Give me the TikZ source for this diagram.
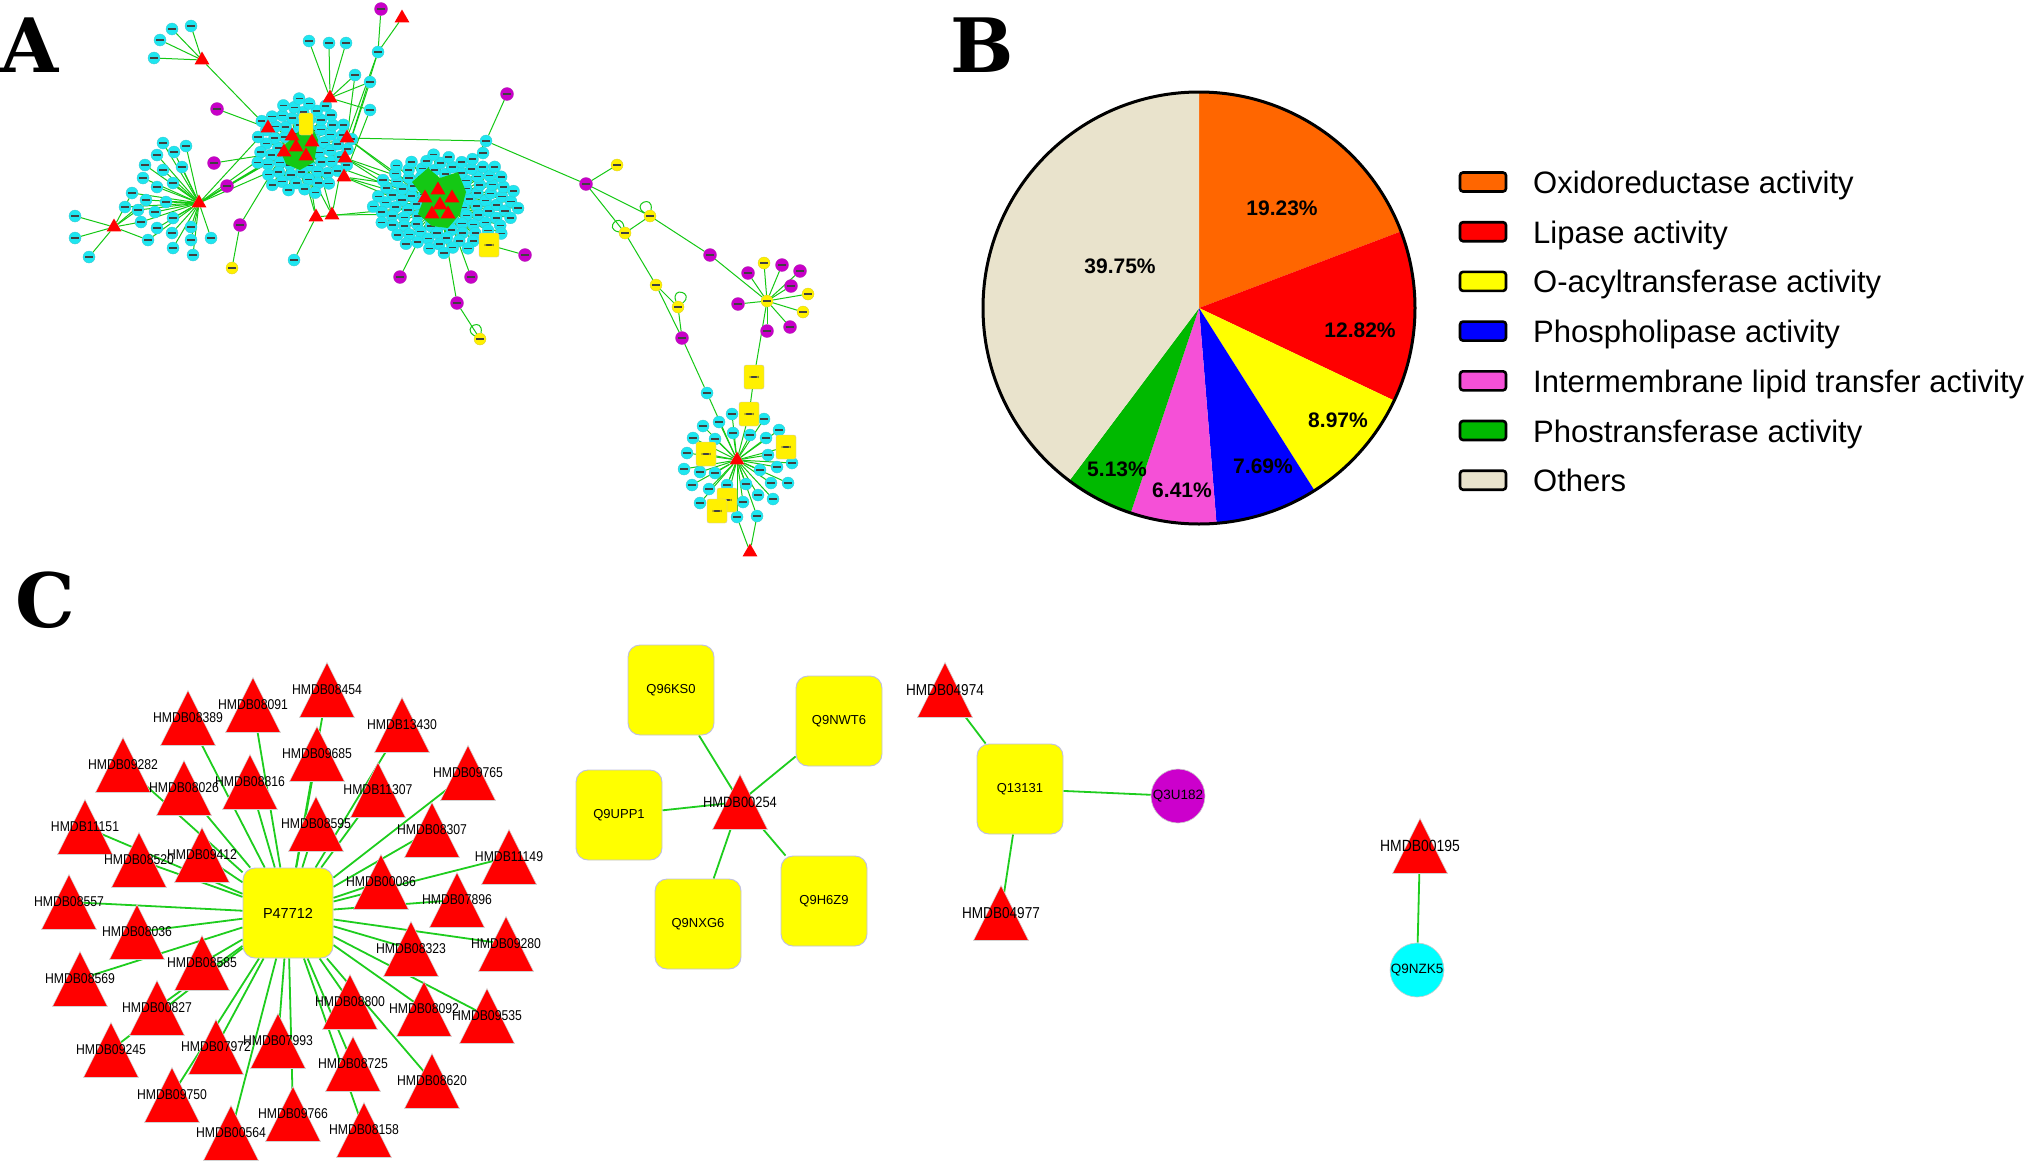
\documentclass[tikz,border=0pt]{standalone}
\usepackage{fontspec}
\setmainfont{Liberation Sans}
\newfontfamily\narrowfont[FakeStretch=0.86]{Liberation Sans}
\newfontfamily\letterfont{DejaVu Serif}
\usetikzlibrary{shapes.geometric,calc}
\pgfdeclarelayer{bg}
\pgfdeclarelayer{paper}
\pgfsetlayers{paper,bg,main}
\definecolor{acyan}{RGB}{30,230,240}
\definecolor{apurple}{RGB}{200,0,200}
\definecolor{ayellow}{RGB}{255,240,0}
\definecolor{agreen}{RGB}{20,200,20}
\definecolor{cgreen}{RGB}{30,205,30}
\definecolor{lav}{RGB}{190,190,225}
\definecolor{porange}{RGB}{255,102,0}
\definecolor{ppink}{RGB}{245,80,215}
\definecolor{pgreen}{RGB}{0,185,0}
\definecolor{pbeige}{RGB}{233,227,204}
\definecolor{cpurple}{RGB}{204,0,204}
\definecolor{ccyan}{RGB}{0,255,255}
\definecolor{yel}{RGB}{255,255,0}
\definecolor{rd}{RGB}{255,0,0}
\definecolor{bl}{RGB}{0,0,255}
\newcommand\ctri[5]{%
  \fill[rd,draw=gray!35,line width=0.6] ({#2-27.5},{#3+27.5}) -- (#2,{#3-27.5}) -- ({#2+27.5},{#3+27.5}) -- cycle;
  \node[inner sep=0,font=\narrowfont\fontsize{#5}{#5}\selectfont] (#1) at (#2,#3) {#4};}
\begin{document}
\begin{tikzpicture}[x=1pt,y=-1pt,
 smudge/.style={path picture={\fill[black!75] ([xshift=-#1,yshift=-0.8pt]path picture bounding box.center) rectangle ([xshift=#1,yshift=0.8pt]path picture bounding box.center);}},
 cy/.style={circle,fill=acyan,draw=acyan!70!gray,line width=0.3,minimum size=12,inner sep=0,smudge=3.6pt},
 pu/.style={circle,fill=apurple,draw=apurple!70!gray,line width=0.3,minimum size=13,inner sep=0,smudge=3.6pt},
 ye/.style={circle,fill=ayellow,draw=ayellow!70!gray,line width=0.3,minimum size=12,inner sep=0,smudge=3.6pt},
 ys/.style={rectangle,rounded corners=2,fill=ayellow,draw=lav,line width=0.3,minimum width=20,minimum height=24,inner sep=0,smudge=4.5pt},
 atri/.style={regular polygon,regular polygon sides=3,fill=rd,minimum size=17,inner sep=0},
 ae/.style={draw=agreen,line width=1},
 ce/.style={draw=cgreen,line width=1.8},
 qbox/.style={rectangle,rounded corners=12,fill=yel,draw=lav,line width=0.9,minimum width=86,minimum height=90,inner sep=0,font=\fontsize{13}{14}\selectfont},
 qcirc/.style={circle,minimum size=54,inner sep=0,draw=gray!40,line width=0.6,font=\fontsize{13.5}{14}\selectfont},
 plab/.style={font=\bfseries\fontsize{21}{22}\selectfont,inner sep=0},
 lbox/.style={rectangle,rounded corners=3,draw=black,line width=2.6,minimum width=46,minimum height=19,inner sep=0},
 ltext/.style={anchor=base west,font=\fontsize{31}{32}\selectfont,inner sep=0},
 panel/.style={font=\letterfont\bfseries\fontsize{75}{75}\selectfont,inner sep=0},
]
\begin{pgfonlayer}{paper}
\fill[white] (0,0) rectangle (2030,1162);
\end{pgfonlayer}
\useasboundingbox (0,0) rectangle (2030,1162);

% ---------------- panel letters
\node[panel] (LA) at (30,45) {A};
\node[panel] (LB) at (982,45) {B};
\node[panel] (LC) at (45,600) {C};

% ================= PANEL A =================
% cluster 1
\foreach \i in {5,...,70}
  \node[cy] (k\i) at ({303+6.0*sqrt(\i)*cos(137.508*\i)},{147+5.8*sqrt(\i)*sin(137.508*\i)}) {};
% cluster 3
\foreach \i in {6,...,110}
  \node[cy] (m\i) at ({445+7.0*sqrt(\i)*cos(137.508*\i)},{203+4.8*sqrt(\i)*sin(137.508*\i)}) {};
\fill[agreen] (412,182) -- (428,168) -- (440,178) -- (458,172) -- (466,192) -- (460,214) -- (448,228) -- (432,226) -- (418,214) -- (424,198) -- cycle;
\fill[agreen] (300,130) -- (312,126) -- (318,140) -- (314,162) -- (300,170) -- (286,164) -- (280,150) -- cycle;
% cluster 2
\foreach \x/\y [count=\i] in {157/155,174/152,145/165,163/170,182/167,143/178,157/187,173/183,132/193,146/200,166/202,138/210,155/212,173/218,141/222,157/228,191/227,172/233,148/240,173/248,191/240,211/238,193/255,125/207,163/143,186/146}
  \node[cy] (q\i) at (\x,\y) {};
\node[cy] (q27) at (75,216) {};
\node[cy] (q28) at (75,238) {};
\node[cy] (q29) at (89,257) {};
% top left star
\node[cy] (ca1) at (172,29) {};
\node[cy] (ca2) at (191,26) {};
\node[cy] (ca3) at (160,40) {};
\node[cy] (ca4) at (154,58) {};
\node[atri] (tA) at (202,60) {};
% top star
\foreach \x/\y [count=\i] in {309/41,329/43,346/43,355/75,370/82,370/110}
  \node[cy] (cb\i) at (\x,\y) {};
\node[atri] (tB) at (330,98) {};
\node[cy] (cC) at (378,52) {};
\node[pu] (pC) at (381,9) {};
\node[atri] (tC) at (402,18) {};
\node[pu] (p1) at (217,109) {};
\node[pu] (p2) at (214,163) {};
\node[pu] (p3) at (227,186) {};
\node[atri] (tD) at (316,217) {};
\node[atri] (tE) at (332,215) {};
\node[cy] (cD) at (294,260) {};
\node[pu] (p4) at (240,225) {};
\node[ye] (y1) at (232,268) {};
% cluster 1 triangles
\node[ys,minimum width=14,minimum height=22,path picture={}] (yk) at (306,124) {};
\foreach \n/\x/\y in {h1b/268/128,h1c/347/138,h1d/345/158,h1e/344/177,h1f/284/152,h1g/306/156,h1h/292/136,h1i/312/142,h1/296/147}
  \node[atri] (\n) at (\x,\y) {};
\node[atri] (t2) at (199,203) {};
\node[atri] (t2b) at (114,227) {};
% cluster 3 hubs
\foreach \n/\x/\y in {h3b/425/198,h3c/452/198,h3d/432/214,h3e/448/214,h3f/438/190,h3/440/205}
  \node[atri] (\n) at (\x,\y) {};
% right chain
\node[cy] (cR) at (486,141) {};
\node[pu] (pR) at (507,94) {};
\node[cy] (cR2) at (483,153) {};
\node[pu] (pS) at (586,184) {};
\node[ye] (yS1) at (617,165) {};
\node[ye] (yS2) at (650,216) {};
\node[ye] (yS3) at (625,233) {};
\node[pu] (pS2) at (710,255) {};
\node[ye] (yS4) at (656,285) {};
\node[ye] (yS5) at (678,307) {};
\node[pu] (pS3) at (682,338) {};
\node[cy] (cS) at (707,393) {};
\node[ye] (yc) at (767,301) {};
\foreach \x/\y [count=\i] in {764/263,808/294,803/312}
  \node[ye] (sy\i) at (\x,\y) {};
\foreach \x/\y [count=\i] in {782/265,800/271,791/286,790/327,767/331,738/304,748/273}
  \node[pu] (sp\i) at (\x,\y) {};
\node[ys] (ysqA) at (754,377) {};
\node[ys] (ysqB) at (489,245) {};
\node[pu] (pB) at (525,255) {};
\node[pu] (p5) at (400,277) {};
\node[pu] (p6) at (471,277) {};
\node[pu] (p7) at (457,303) {};
\node[ye] (y2) at (480,339) {};
% bottom cluster
\foreach \x/\y [count=\i] in {732/414,719/422,703/426,764/419,779/430,693/438,715/439,733/433,750/435,766/438,687/453,768/455,684/469,700/472,715/473,760/470,777/467,792/463,788/483,771/483,692/485,709/489,727/485,746/484,758/495,773/499,700/503,743/502,737/517,757/516}
  \node[cy] (r\i) at (\x,\y) {};
\foreach \x/\y [count=\i] in {749/414,786/447,706/454,727/500,717/511}
  \node[ys] (s\i) at (\x,\y) {};
\node[atri] (hb) at (737,460) {};
\node[atri] (hb2) at (750,552) {};

% ================= PANEL B =================
\begin{scope}[shift={(1199,308)},yscale=-1]
\fill[porange] (0,0) -- (90:216) arc[start angle=90,end angle=20.77,radius=216] -- cycle;
\fill[rd] (0,0) -- (20.77:216) arc[start angle=20.77,end angle=-25.38,radius=216] -- cycle;
\fill[yel] (0,0) -- (-25.38:216) arc[start angle=-25.38,end angle=-57.67,radius=216] -- cycle;
\fill[bl] (0,0) -- (-57.67:216) arc[start angle=-57.67,end angle=-85.35,radius=216] -- cycle;
\fill[ppink] (0,0) -- (-85.35:216) arc[start angle=-85.35,end angle=-108.43,radius=216] -- cycle;
\fill[pgreen] (0,0) -- (-108.43:216) arc[start angle=-108.43,end angle=-126.9,radius=216] -- cycle;
\fill[pbeige] (0,0) -- (-126.9:216) arc[start angle=-126.9,end angle=-270,radius=216] -- cycle;
\draw[line width=3] (0,0) circle[radius=216];
\end{scope}
\node[plab] (v1) at (1282,208) {19.23\%};
\node[plab] (v2) at (1360,330) {12.82\%};
\node[plab] (v3) at (1338,420) {8.97\%};
\node[plab] (v4) at (1263,466) {7.69\%};
\node[plab] (v5) at (1182,490) {6.41\%};
\node[plab] (v6) at (1117,469) {5.13\%};
\node[plab] (v7) at (1120,266) {39.75\%};
\foreach \c/\t [count=\i] in {porange/Oxidoreductase activity,rd/Lipase activity,yel/O-acyltransferase activity,bl/Phospholipase activity,ppink/Intermembrane lipid transfer activity,pgreen/Phostransferase activity,pbeige/Others}
{
  \node[lbox,fill=\c] (lb\i) at (1483,{182+49.7*(\i-1)}) {};
  \node[ltext] (lt\i) at (1533,{193.5+49.7*(\i-1)}) {\t};
}

% ================= PANEL C =================
\node[qbox,minimum width=90] (P47712) at (288,913) {\fontsize{14.5}{14}\selectfont P47712};
\foreach \n/\x/\y/\l in {a1/327/690/HMDB08454,a2/253/705/HMDB08091,a3/188/718/HMDB08389,a4/402/725/HMDB13430,a5/317/754/HMDB09685,a6/123/765/HMDB09282,a7/184/788/HMDB08026,a8/250/782/HMDB08816,a9/378/790/HMDB11307,a10/468/773/HMDB09765,a11/85/827/HMDB11151,a12/139/860/HMDB08520,a13/202/855/HMDB09412,a14/316/824/HMDB08595,a15/432/830/HMDB08307,a16/509/857/HMDB11149,a17/381/882/HMDB00086,a18/457/900/HMDB07896,a19/69/902/HMDB08557,a20/137/932/HMDB08036,a21/202/963/HMDB08585,a22/80/979/HMDB08569,a23/157/1008/HMDB00827,a24/111/1050/HMDB09245,a25/216/1047/HMDB07972,a26/278/1041/HMDB07993,a27/172/1095/HMDB09750,a28/231/1133/HMDB00564,a29/293/1114/HMDB09766,a30/364/1130/HMDB08158,a31/353/1064/HMDB08725,a32/432/1081/HMDB08620,a33/350/1002/HMDB08800,a34/424/1009/HMDB08092,a35/487/1016/HMDB09535,a36/411/949/HMDB08323,a37/506/944/HMDB09280}
  {\ctri{\n}{\x}{\y}{\l}{14.2}}

\node[qbox] (Q96KS0) at (671,690) {Q96KS0};
\node[qbox] (Q9NWT6) at (839,721) {Q9NWT6};
\node[qbox] (Q9UPP1) at (619,815) {Q9UPP1};
\node[qbox] (Q9NXG6) at (698,924) {Q9NXG6};
\node[qbox] (Q9H6Z9) at (824,901) {Q9H6Z9};
\node[qbox] (Q13131) at (1020,789) {Q13131};
\ctri{b1}{740}{802}{HMDB00254}{15}
\ctri{b2}{945}{690}{HMDB04974}{15.8}
\ctri{b3}{1001}{913}{HMDB04977}{15.8}
\ctri{b4}{1420}{846}{HMDB00195}{16.2}
\node[qcirc,fill=cpurple] (Q3U182) at (1178,796) {Q3U182};
\node[qcirc,fill=ccyan] (Q9NZK5) at (1417,970) {Q9NZK5};

% ================= EDGES (behind) =================
\begin{pgfonlayer}{bg}
\foreach \i in {5,...,70} \draw[ae] (h1) -- (k\i);
\foreach \i in {6,...,110} \draw[ae] (h3) -- (m\i);
\foreach \i in {1,...,26} \draw[ae] (t2) -- (q\i);
\foreach \i in {27,28,29,9,10,12,15,19} \draw[ae] (t2b) -- (q\i);
\foreach \i in {1,...,4} \draw[ae] (tA) -- (ca\i);
\draw[ae] (tA) -- (h1b);
\foreach \i in {1,...,6} \draw[ae] (tB) -- (cb\i);
\draw[ae] (tB) -- (h1);
\draw[ae] (cb4) -- (h1c); \draw[ae] (cb5) -- (h1d); \draw[ae] (cb6) -- (h1e);
\draw[ae] (cC) -- (pC); \draw[ae] (cC) -- (tC); \draw[ae] (cC) -- (h1c); \draw[ae] (cC) -- (h1d);
\draw[ae] (p1) -- (h1b); \draw[ae] (p2) -- (h1f); \draw[ae] (p3) -- (h1);
\draw[ae] (tD) -- (h1); \draw[ae] (tE) -- (h1); \draw[ae] (tD) -- (h1g); \draw[ae] (tE) -- (h1i);
\draw[ae] (tD) -- (cD); \draw[ae] (tD) -- (h3); \draw[ae] (tE) -- (h3d); \draw[ae] (tE) -- (h1c);
\draw[ae] (p4) -- (h1f); \draw[ae] (p4) -- (y1);
\draw[ae,line width=1.6] (t2) -- (h1f); \draw[ae] (t2) -- (h1); \draw[ae] (t2) -- (h1b); \draw[ae] (t2) -- (h1g); \draw[ae] (t2) -- (h1h);
\draw[ae] (h1c) -- (h3); \draw[ae] (h1d) -- (h3); \draw[ae] (h1e) -- (h3); \draw[ae] (h1c) -- (h3b);
\draw[ae] (h1d) -- (h3d); \draw[ae] (h1e) -- (h3d); \draw[ae] (h1g) -- (h3b); \draw[ae] (h1e) -- (h3f); \draw[ae] (h1d) -- (h3f);
\draw[ae] (cR) -- (pR); \draw[ae] (cR) -- (cR2); \draw[ae] (cR) -- (h1c); \draw[ae] (cR) -- (pS); \draw[ae] (cR) -- (h3c);
\draw[ae] (ysqB) -- (pB); \draw[ae] (ysqB) -- (h3e);
\draw[ae] (p5) -- (h3d); \draw[ae] (p6) -- (h3e); \draw[ae] (p7) -- (h3); \draw[ae] (p7) -- (y2);
\draw[ae] (y2) to[out=150,in=80,looseness=6] (y2);
\draw[ae] (pS) -- (yS1); \draw[ae] (pS) -- (yS2); \draw[ae] (pS) -- (yS3); \draw[ae] (yS2) -- (yS3);
\draw[ae] (yS2) to[out=150,in=80,looseness=6] (yS2);
\draw[ae] (yS3) to[out=170,in=100,looseness=6] (yS3);
\draw[ae] (yS2) -- (pS2); \draw[ae] (yS3) -- (yS4); \draw[ae] (yS4) -- (yS5); \draw[ae] (yS4) -- (pS3); \draw[ae] (yS5) -- (pS3);
\draw[ae] (yS5) to[out=40,in=110,looseness=6] (yS5);
\draw[ae] (pS3) -- (cS); \draw[ae] (pS2) -- (yc);
\foreach \i in {1,2,3} \draw[ae] (yc) -- (sy\i);
\foreach \i in {1,...,7} \draw[ae] (yc) -- (sp\i);
\draw[ae] (yc) -- (ysqA); \draw[ae] (ysqA) -- (s1); \draw[ae] (s1) -- (hb);
\draw[ae] (cS) -- (hb);
\foreach \i in {1,...,30} \draw[ae] (hb) -- (r\i);
\foreach \i in {2,...,5} \draw[ae] (hb) -- (s\i);
\draw[ae] (hb2) -- (r29); \draw[ae] (hb2) -- (r30);
% panel C edges
\foreach \n in {a1,a2,a3,a4,a5,a6,a7,a8,a9,a10,a11,a12,a13,a14,a15,a16,a17,a18,a19,a20,a21,a22,a23,a24,a25,a26,a27,a28,a29,a30,a31,a32,a33,a34,a35,a36,a37}
  \draw[ce] (P47712) -- (\n.center);
\foreach \n in {Q96KS0,Q9NWT6,Q9UPP1,Q9NXG6,Q9H6Z9}
  \draw[ce] (\n) -- (b1.center);
\draw[ce] (Q13131) -- (b2.center);
\draw[ce] (Q13131) -- (b3.center);
\draw[ce] (Q13131) -- (Q3U182);
\draw[ce] (b4.center) -- (Q9NZK5);
\end{pgfonlayer}
\end{tikzpicture}
\end{document}
